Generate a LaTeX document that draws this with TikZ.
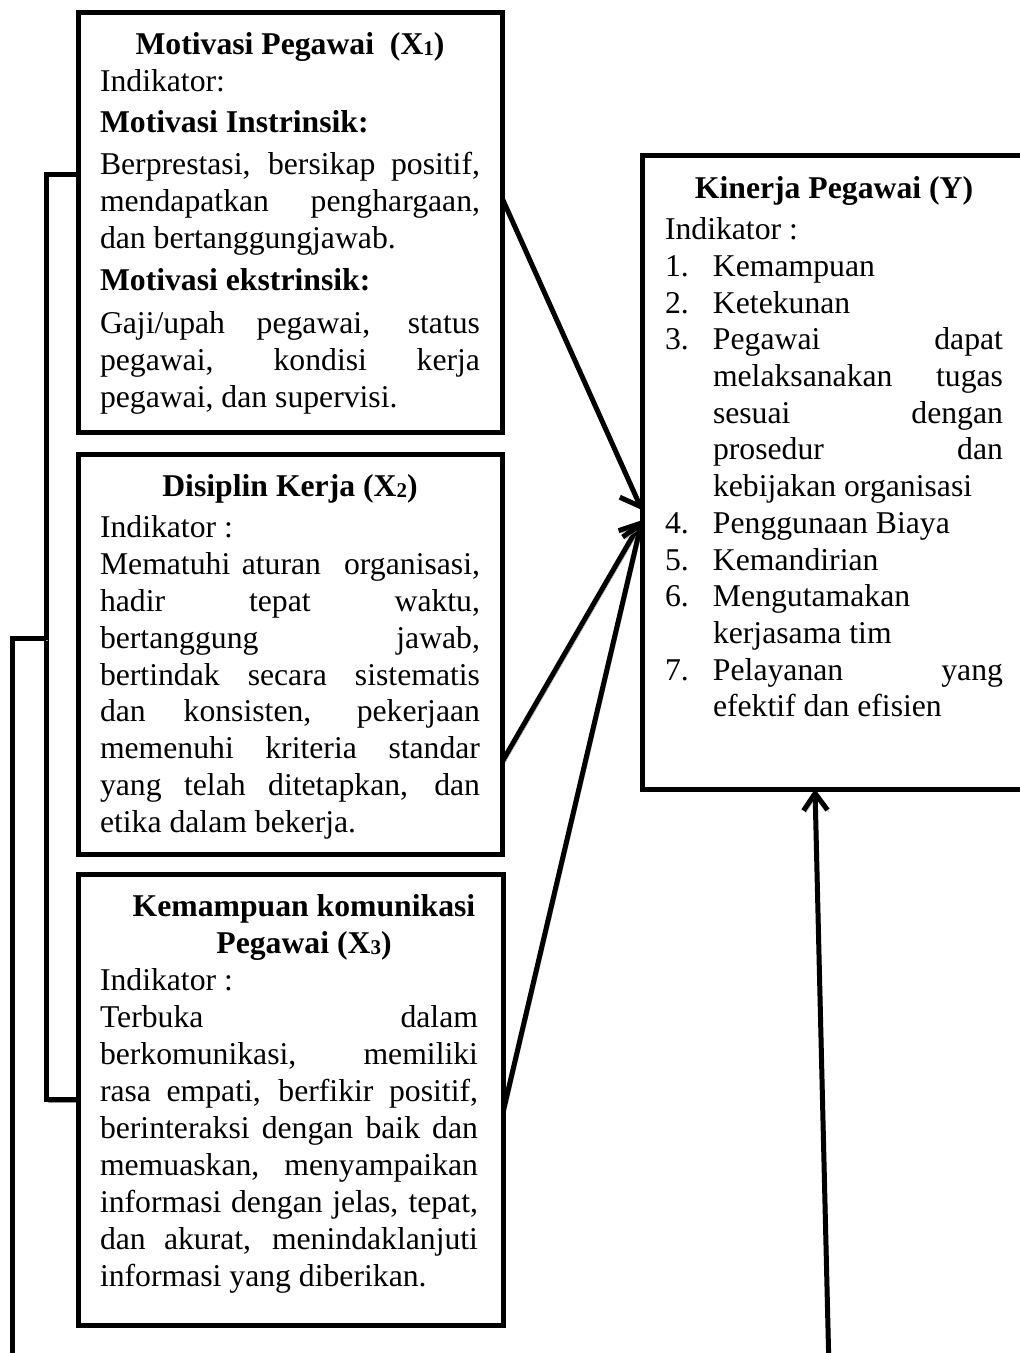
\documentclass[tikz,border=0pt]{standalone}
\usepackage{fontspec}
\setmainfont{Liberation Serif}
\usetikzlibrary{arrows.meta,calc}
\pgfdeclarelayer{bg}
\pgfsetlayers{bg,main}
\newcommand\fsz[1]{\fontsize{31.7}{#1}\selectfont\lineskiplimit=-100pt\lineskip=0pt}
\newcommand\JL[1]{\hbox to\hsize{#1}}
\newcommand\LL[1]{\hbox{#1}}
\newcommand\CL[2][0pt]{\hbox to\hsize{\hskip#1\hfil\bfseries #2\hfil}}
\newcommand\subn[1]{\raisebox{-1.5pt}{\fontsize{21}{21}\selectfont #1}}
\newcommand\num[1]{\hbox to48pt{#1\hfil}}
\begin{document}
\begin{tikzpicture}[x=1pt,y=-1pt,
  box/.style={draw, line width=5pt, fill=white, inner sep=0pt, outer sep=0pt, anchor=north west},
  txt/.style={inner sep=0pt, outer sep=0pt, anchor=base west},
  conn/.style={line width=5pt, preaction={draw=black!40, transform canvas={shift={(2pt,-2.5pt)}}}},
  arr/.style={conn, -{Straight Barb[length=17pt,width=30pt]}}]
\useasboundingbox (0,0) rectangle (1020,1353);
\begin{pgfonlayer}{bg}
\fill[white] (0,0) rectangle (1020,1353);
\end{pgfonlayer}

% boxes
\node[box, minimum width=424pt, minimum height=419.5pt] (b1) at (78,12.5) {};
\node[box, minimum width=424pt, minimum height=400pt] (b2) at (78,454) {};
\node[box, minimum width=425pt, minimum height=451pt] (b3) at (78,874) {};
\node[box, minimum width=390pt, minimum height=634pt] (bY) at (642,155) {};

% texts
\node[txt] (t1) at (100,54) {\vtop{\hsize=380pt\fsz{37}%
\CL{Motivasi Pegawai\ \ (X\subn{1})}
\LL{Indikator:}
\kern4pt
\LL{\bfseries Motivasi Instrinsik:}
\kern5pt
\JL{Berprestasi, bersikap positif,}
\JL{mendapatkan penghargaan,}
\LL{dan bertanggungjawab.}
\kern5pt
\LL{\bfseries Motivasi ekstrinsik:}
\kern6pt
\JL{Gaji/upah pegawai, status}
\JL{pegawai, kondisi kerja}
\LL{pegawai, dan supervisi.}
}};

\node[txt] (t2) at (100,496) {\vtop{\hsize=380pt\fsz{36.8}%
\CL{Disiplin Kerja (X\subn{2})}
\kern5pt
\LL{Indikator :}
\JL{Mematuhi aturan\ \ organisasi,}
\JL{hadir tepat waktu,}
\JL{bertanggung jawab,}
\JL{bertindak secara sistematis}
\JL{dan konsisten, pekerjaan}
\JL{memenuhi kriteria standar}
\JL{yang telah ditetapkan, dan}
\LL{etika dalam bekerja.}
}};

\node[txt] (t3) at (100,916) {\vtop{\hsize=378pt\fsz{37}%
\CL[30pt]{Kemampuan komunikasi}
\CL[30pt]{Pegawai (X\subn{3})}
\LL{Indikator :}
\JL{Terbuka dalam}
\JL{berkomunikasi, memiliki}
\JL{rasa empati, berfikir positif,}
\JL{berinteraksi dengan baik dan}
\JL{memuaskan,\ \ menyampaikan}
\JL{informasi dengan jelas, tepat,}
\JL{dan akurat, menindaklanjuti}
\LL{informasi yang diberikan.}
}};

\node[txt] (tY) at (665,198) {\vtop{\hsize=338pt\fsz{36.7}%
\CL{Kinerja Pegawai (Y)}
\kern5pt
\LL{Indikator :}
\LL{\num{1.}Kemampuan}
\LL{\num{2.}Ketekunan}
\JL{\num{3.}Pegawai dapat}
\JL{\hskip48pt melaksanakan tugas}
\JL{\hskip48pt sesuai dengan}
\JL{\hskip48pt prosedur dan}
\LL{\hskip48pt kebijakan organisasi}
\LL{\num{4.}Penggunaan Biaya}
\LL{\num{5.}Kemandirian}
\LL{\num{6.}Mengutamakan}
\LL{\hskip48pt kerjasama tim}
\JL{\num{7.}Pelayanan yang}
\LL{\hskip48pt efektif dan efisien}
}};

% connectors
\coordinate (oL) at (12,1370);
\coordinate (jn) at (46,638);
\coordinate (oB) at (829,1370);
\begin{pgfonlayer}{bg}
\draw[conn] ($(b1.north west)!0.385!(b1.south west)$) -- ++(-32,0) |- (b3.west);
\draw[conn] (oL) |- (jn);
\draw[arr] ($(b1.north east)!0.442!(b1.south east)$) -- ($(bY.north west)!0.56!(bY.south west)$);
\draw[arr] ($(b2.north east)!0.77!(b2.south east)$) -- ($(bY.north west)!0.576!(bY.south west)$);
\draw[arr] ($(b3.north east)!0.528!(b3.south east)$) -- ($(bY.north west)!0.576!(bY.south west)$);
\draw[conn, -{Straight Barb[length=17pt,width=24pt]}] (oB) -- ($(bY.south west)+(173,0)$);
\end{pgfonlayer}
\end{tikzpicture}
\end{document}
